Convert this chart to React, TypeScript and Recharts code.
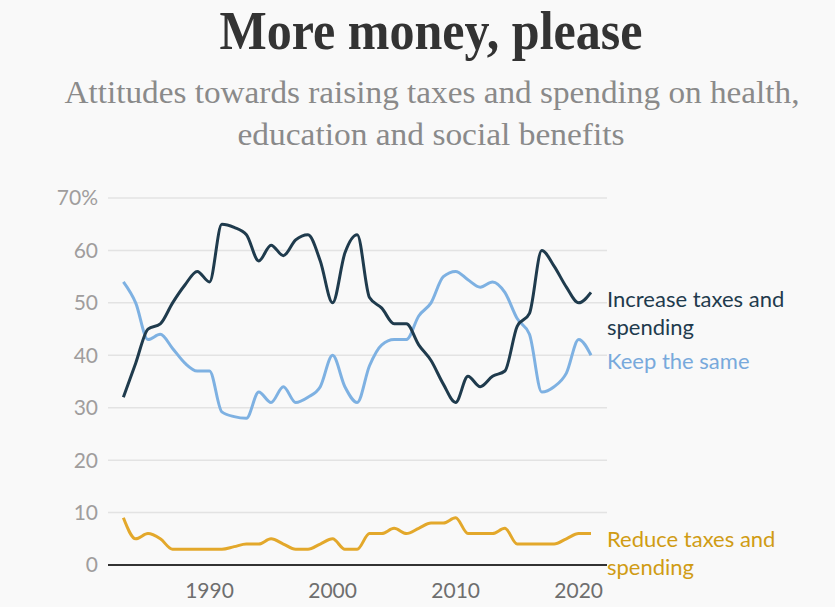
import { LineChart, Line, XAxis, YAxis, CartesianGrid } from "recharts";

const years = [
  1983, 1984, 1985, 1986, 1987, 1988, 1989, 1990, 1991, 1992, 1993, 1994, 1995,
  1996, 1997, 1998, 1999, 2000, 2001, 2002, 2003, 2004, 2005, 2006, 2007, 2008,
  2009, 2010, 2011, 2012, 2013, 2014, 2015, 2016, 2017, 2018, 2019, 2020, 2021,
];

const increase = [
  32, 38.5, 45, 46, 50, 53.4, 56, 54, 65, 64.4, 63, 58, 61, 59, 62, 63, 58, 50,
  59.5, 63, 51, 49, 46, 46, 42, 39, 34.5, 31, 36, 34, 36, 37, 45.5, 48, 60, 57,
  53, 50, 52,
];

const keepSame = [
  54, 50, 43, 44, 41.3, 38.5, 37, 37, 29.2, 28.3, 28, 33, 31, 34, 31, 32, 34, 40,
  34, 31, 38, 42, 43, 43, 47.5, 50, 55, 56, 54.4, 53, 54, 52, 47, 44, 33, 34,
  36.6, 43, 40,
];

const reduce = [
  9, 5, 6, 5, 3, 3, 3, 3, 3, 3.5, 4, 4, 5, 4, 3, 3, 4, 5, 3, 3, 6, 6, 7, 6, 7, 8,
  8, 9, 6, 6, 6, 7, 4, 4, 4, 4, 5, 6, 6,
];

const yTicks = [0, 10, 20, 30, 40, 50, 60, 70];
const xTicks = [1990, 2000, 2010, 2020];

const data = years.map((year, i) => ({
  year,
  increase: increase[i],
  same: keepSame[i],
  reduce: reduce[i],
}));

const DARK = "#1f3b4d";
const BLUE = "#7eb1e2";
const GOLD = "#e3a82b";
const SANS = "Lato, 'Open Sans', sans-serif";
const SERIF = "'Liberation Serif', 'DejaVu Serif', serif";

export default function App() {
  return (
    <div
      style={{
        position: "absolute",
        left: 0,
        top: 0,
        width: 835,
        height: 607,
        background: "#f9f9f9",
        overflow: "hidden",
      }}
    >
      <LineChart
        width={835}
        height={607}
        data={data}
        margin={{ top: 198, right: 228, bottom: 0, left: 0 }}
      >
        <CartesianGrid vertical={false} stroke="#e3e3e3" strokeWidth={1.5} />
        <XAxis
          dataKey="year"
          type="number"
          domain={[1981.75, 2022.3]}
          ticks={xTicks}
          allowDataOverflow
          height={42}
          tickLine={false}
          axisLine={{ stroke: "#333", strokeWidth: 2 }}
          tickMargin={12}
          tick={{ fontSize: 21, fill: "#6e6e6e", fontFamily: SANS }}
        />
        <YAxis
          domain={[0, 70]}
          ticks={yTicks}
          width={108}
          axisLine={false}
          tickLine={false}
          tickMargin={4}
          tick={{ fontSize: 21, fill: "#a09d9d", fontFamily: SANS }}
          tickFormatter={(v) => (v === 70 ? "70%" : String(v))}
        />
        <Line
          dataKey="reduce"
          type="monotone"
          stroke={GOLD}
          strokeWidth={3}
          dot={false}
          isAnimationActive={false}
        />
        <Line
          dataKey="same"
          type="monotone"
          stroke={BLUE}
          strokeWidth={3}
          dot={false}
          isAnimationActive={false}
        />
        <Line
          dataKey="increase"
          type="monotone"
          stroke={DARK}
          strokeWidth={3}
          dot={false}
          isAnimationActive={false}
        />
      </LineChart>

      <svg
        width={835}
        height={607}
        style={{ position: "absolute", left: 0, top: 0, pointerEvents: "none" }}
      >
        <text
          x={431}
          y={49}
          textAnchor="middle"
          fontFamily={SERIF}
          fontWeight="bold"
          fontSize={54}
          fill="#333"
          textLength={423}
          lengthAdjust="spacingAndGlyphs"
        >
          More money, please
        </text>
        <text
          x={432}
          y={103}
          textAnchor="middle"
          fontFamily={SERIF}
          fontSize={32}
          fill="#8a8a8a"
          textLength={735}
          lengthAdjust="spacingAndGlyphs"
        >
          Attitudes towards raising taxes and spending on health,
        </text>
        <text
          x={431}
          y={145}
          textAnchor="middle"
          fontFamily={SERIF}
          fontSize={32}
          fill="#8a8a8a"
          textLength={387}
          lengthAdjust="spacingAndGlyphs"
        >
          education and social benefits
        </text>

        <g fontFamily={SANS} fontSize={22}>
          <text x={607} y={307} fill={DARK}>Increase taxes and</text>
          <text x={607} y={335} fill={DARK}>spending</text>
          <text x={607} y={369} fill="#78a9dc">Keep the same</text>
          <text x={607} y={547} fill="#d09c14">Reduce taxes and</text>
          <text x={607} y={575} fill="#d09c14">spending</text>
        </g>
      </svg>
    </div>
  );
}
